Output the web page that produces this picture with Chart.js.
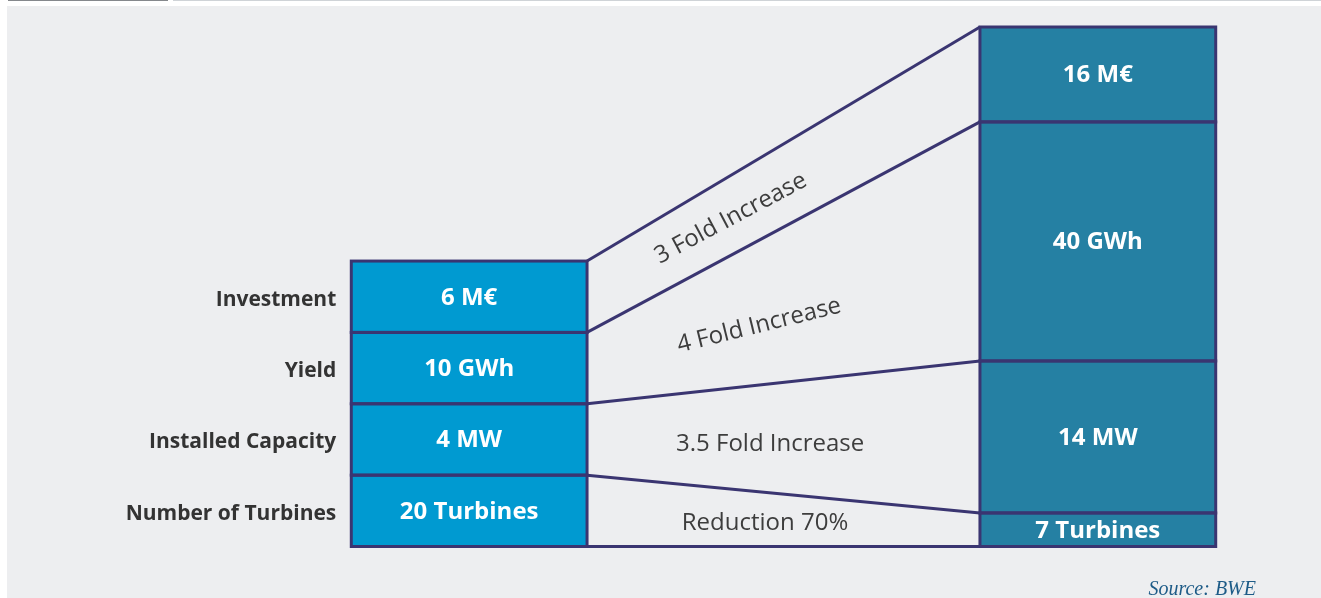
<!DOCTYPE html>
<html><head><meta charset="utf-8">
<script src="https://cdn.jsdelivr.net/npm/chart.js@4/dist/chart.umd.min.js"></script>
<style>
html,body{margin:0;padding:0;background:#fff;width:1321px;height:598px;overflow:hidden}
#panel{position:absolute;left:7px;top:6px;width:1314px;height:592px;background:#edeef0}
#bar1{position:absolute;left:8px;top:0;width:160px;height:1px;background:#85888c}
#bar2{position:absolute;left:173px;top:0;width:1148px;height:1px;background:#cfd3d7}
canvas{position:absolute;left:0;top:0}
</style></head><body>
<div id="panel"></div><div id="bar1"></div><div id="bar2"></div>
<canvas id="c" width="1321" height="598"></canvas>
<script>
// ---- data (bottom segment first) ----
const categories = ['Before', '', 'After'];
const metrics = ['Number of Turbines', 'Installed Capacity', 'Yield', 'Investment'];
const beforeHeights = [1, 1, 1, 1];
const afterHeights = [0.47, 2.13, 3.35, 1.33];
const beforeLabels = ['20 Turbines', '4 MW', '10 GWh', '6 M€'];
const afterLabels = ['7 Turbines', '14 MW', '40 GWh', '16 M€'];
const changeLabels = ['Reduction 70%', '3.5 Fold Increase', '4 Fold Increase', '3 Fold Increase'];
const yMax = 7.28;
const sourceText = 'Source: BWE';

// ---- styles ----
const beforeColor = '#009ad1';
const afterColor = '#2580a3';
const lineColor = '#3a3571';
const changePlacement = [
  {t: 0.453, dy: 4, angle: 0},
  {t: 0.466, dy: 6, angle: 0},
  {t: 0.438, dy: 13, angle: -14},
  {t: 0.366, dy: 3, angle: -28}
];

const overlay = {
  id: 'overlay',
  afterDatasetsDraw(chart) {
    const ctx = chart.ctx;
    const metas = metrics.map((m, i) => chart.getDatasetMeta(i));
    ctx.save();
    ctx.strokeStyle = lineColor;
    ctx.lineWidth = 3;
    ctx.lineJoin = 'miter';
    // outlines
    metas.forEach(meta => {
      [0, 2].forEach(k => {
        const el = meta.data[k];
        ctx.strokeRect(el.x - el.width / 2, el.y, el.width, el.base - el.y);
      });
    });
    // connectors
    const L0 = metas[0].data[0], R0 = metas[0].data[2];
    const lx = L0.x + L0.width / 2, rx = R0.x - R0.width / 2;
    const lys = [L0.base].concat(metas.map(m => m.data[0].y));
    const rys = [R0.base].concat(metas.map(m => m.data[2].y));
    ctx.lineCap = 'butt';
    for (let i = 0; i < lys.length; i++) {
      ctx.beginPath();
      ctx.moveTo(lx, lys[i]);
      ctx.lineTo(rx, rys[i]);
      ctx.stroke();
    }
    // segment value labels
    ctx.fillStyle = '#ffffff';
    ctx.font = 'bold 24px "Open Sans"';
    ctx.textAlign = 'center';
    ctx.textBaseline = 'middle';
    metas.forEach((meta, i) => {
      const a = meta.data[0], b = meta.data[2];
      ctx.fillText(beforeLabels[i], a.x, (a.y + a.base) / 2 + 1);
      ctx.fillText(afterLabels[i], b.x, (b.y + b.base) / 2 + 1);
    });
    // category labels
    ctx.fillStyle = '#333333';
    ctx.font = 'bold 21px "Open Sans"';
    ctx.textAlign = 'right';
    metas.forEach((meta, i) => {
      const a = meta.data[0];
      ctx.fillText(metrics[i], a.x - a.width / 2 - 15, (a.y + a.base) / 2 + 3);
    });
    // change labels
    ctx.fillStyle = '#3d3d3d';
    ctx.font = '24px "Open Sans"';
    ctx.textAlign = 'center';
    changeLabels.forEach((txt, i) => {
      const p = changePlacement[i];
      const x = lx + p.t * (rx - lx);
      const yLow = lys[i] + p.t * (rys[i] - lys[i]);
      const yUp = lys[i + 1] + p.t * (rys[i + 1] - lys[i + 1]);
      const y = (yLow + yUp) / 2 + p.dy;
      ctx.save();
      ctx.translate(x, y);
      ctx.rotate(p.angle * Math.PI / 180);
      ctx.fillText(txt, 0, 0);
      ctx.restore();
    });
    // source
    ctx.fillStyle = '#1d5b87';
    ctx.font = 'italic 20px "Liberation Serif"';
    ctx.textAlign = 'right';
    ctx.textBaseline = 'alphabetic';
    ctx.fillText(sourceText, 1256, 595);
    ctx.restore();
  }
};

new Chart(document.getElementById('c'), {
  type: 'bar',
  data: {
    labels: categories,
    datasets: metrics.map((m, i) => ({
      label: m,
      data: [beforeHeights[i], null, afterHeights[i]],
      backgroundColor: [beforeColor, 'rgba(0,0,0,0)', afterColor],
      borderWidth: 0,
      categoryPercentage: 0.75,
      barPercentage: 1.0
    }))
  },
  options: {
    responsive: false,
    animation: false,
    layout: {padding: {left: 312, right: 66, top: 27, bottom: 51.5}},
    plugins: {legend: {display: false}, tooltip: {enabled: false}},
    scales: {
      x: {stacked: true, display: false},
      y: {stacked: true, display: false, min: 0, max: yMax}
    }
  },
  plugins: [overlay]
});
</script>
</body></html>
